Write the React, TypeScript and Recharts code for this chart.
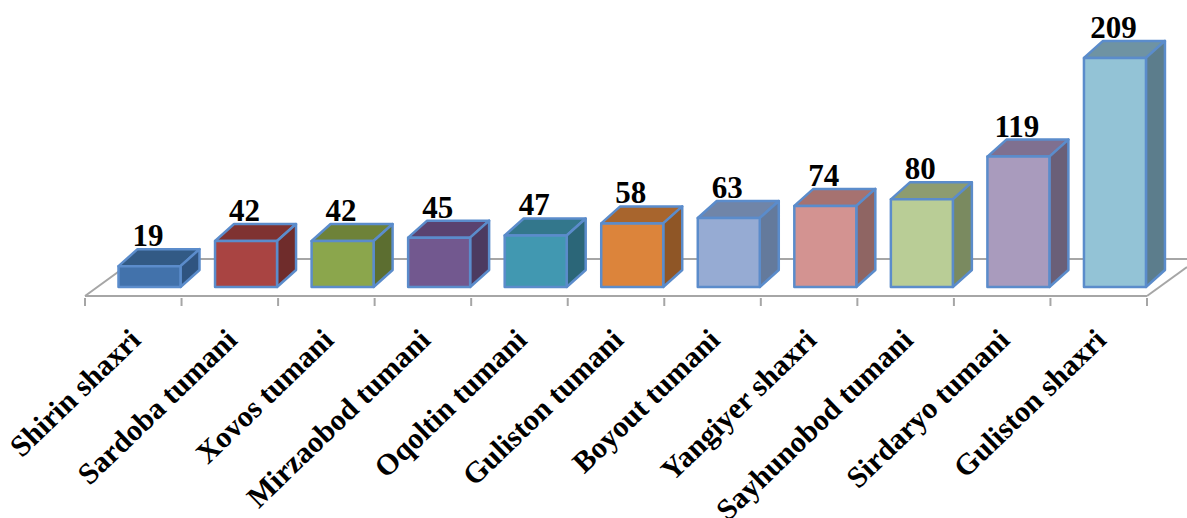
import { BarChart, Bar, XAxis, YAxis, LabelList } from "recharts"

const categories = [
  "Shirin shaxri",
  "Sardoba tumani",
  "Xovos tumani",
  "Mirzaobod tumani",
  "Oqoltin tumani",
  "Guliston tumani",
  "Boyout tumani",
  "Yangiyer shaxri",
  "Sayhunobod tumani",
  "Sirdaryo tumani",
  "Guliston shaxri",
]
const values = [19, 42, 42, 45, 47, 58, 63, 74, 80, 119, 209]

const frontColors = ["#4272ab", "#a94442", "#8ba64c", "#72588f", "#4198b1", "#dc843b", "#96abd3", "#d39391", "#b9cd96", "#a99bbd", "#93c3d6"]
const topColors = ["#325a85", "#7f3231", "#6e8238", "#5a4370", "#33778c", "#a8652d", "#7085a8", "#a67270", "#8d9c70", "#7f7090", "#6f93a3"]
const sideColors = ["#2f5480", "#6f2c2b", "#5c6e30", "#4c3a60", "#2b6678", "#8f5626", "#647a9c", "#8f6563", "#7a8a60", "#6a5f78", "#5c7d8c"]

const chartData = categories.map((name, i) => ({ name, value: values[i] }))

const FONT = '"Liberation Serif", serif'
const BORDER = "#5b8ccb"
const AXIS = "#a6a6a6"
const DEPTH_X = 19
const DEPTH_Y = 17
// bars stand a bit inside the floor, not on its front edge
const SHIFT_X = 16.5
const SHIFT_Y = -9
const HALF_BAND = 48.27

function Box(props: any) {
  const { x, y, width, height, index } = props
  const l = x + SHIFT_X
  const r = l + width
  const t = y + SHIFT_Y
  const b = t + height
  const edge = { stroke: BORDER, strokeWidth: 2.5, strokeLinejoin: "round" as const }
  return (
    <g>
      <path d={`M${l},${t} L${l + DEPTH_X},${t - DEPTH_Y} L${r + DEPTH_X},${t - DEPTH_Y} L${r},${t} Z`} fill={topColors[index]} {...edge} />
      <path d={`M${r},${t} L${r + DEPTH_X},${t - DEPTH_Y} L${r + DEPTH_X},${b - DEPTH_Y} L${r},${b} Z`} fill={sideColors[index]} {...edge} />
      <rect x={l} y={t} width={width} height={height} fill={frontColors[index]} {...edge} />
    </g>
  )
}

function ValueLabel(props: any) {
  const { x, y, width, value } = props
  return (
    <text
      x={x + width / 2 + SHIFT_X - 1.5}
      y={y + SHIFT_Y - DEPTH_Y - 3}
      textAnchor="middle"
      fontFamily={FONT}
      fontWeight="bold"
      fontSize={31}
      fill="#000"
    >
      {value}
    </text>
  )
}

// tick marks sit between the categories, so they are drawn here
function CategoryTick(props: any) {
  const { x, y, payload, index } = props
  return (
    <g>
      <line x1={x + HALF_BAND} y1={y - 8} x2={x + HALF_BAND} y2={y} stroke={AXIS} strokeWidth={2} />
      {index === 0 && <line x1={x - HALF_BAND} y1={y - 8} x2={x - HALF_BAND} y2={y} stroke={AXIS} strokeWidth={2} />}
      <text
        transform={`translate(${x + 9},${y + 36}) rotate(-44)`}
        textAnchor="end"
        fontFamily={FONT}
        fontWeight="bold"
        fontSize={30}
        fill="#000"
      >
        {payload.value}
      </text>
    </g>
  )
}

// back edge and side edges of the floor
function Floor() {
  return (
    <g stroke={AXIS} strokeWidth={2} fill="none">
      <path d="M85,296 L136,259 L1187,259" />
      <path d="M1147,296 L1187,267" />
    </g>
  )
}

export default function App() {
  return (
    <div style={{ position: "absolute", left: 0, top: 0, width: 1187, height: 518, overflow: "hidden", background: "#fff" }}>
      <BarChart
        width={1187}
        height={518}
        data={chartData}
        margin={{ top: 22, right: 40, bottom: 0, left: 85 }}
      >
        <Floor />
        <XAxis
          dataKey="name"
          interval={0}
          height={222}
          tick={<CategoryTick />}
          tickSize={8}
          tickLine={false}
          axisLine={{ stroke: AXIS, strokeWidth: 2 }}
        />
        <YAxis hide domain={[0, 250]} />
        <Bar dataKey="value" barSize={62} shape={<Box />} isAnimationActive={false}>
          <LabelList dataKey="value" content={<ValueLabel />} />
        </Bar>
      </BarChart>
    </div>
  )
}
